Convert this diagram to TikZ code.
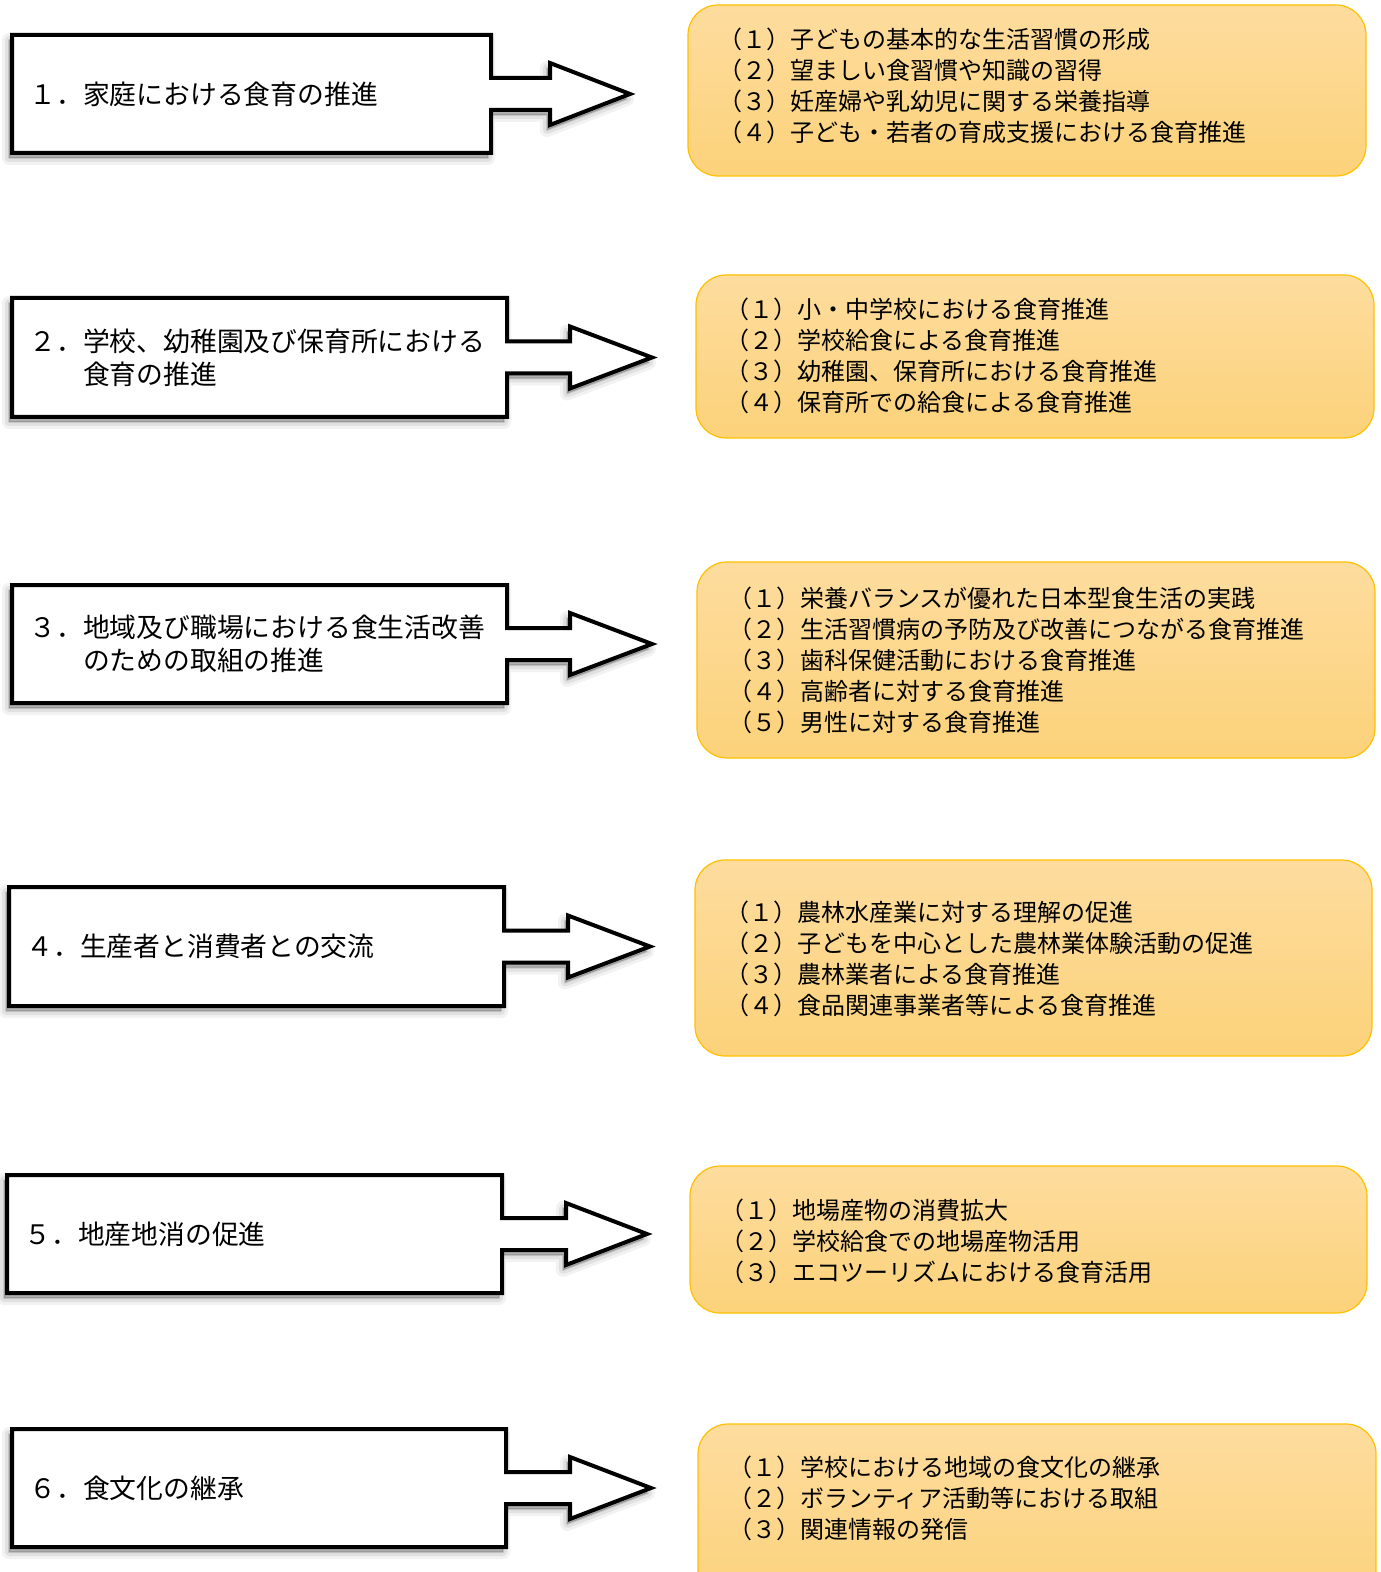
\documentclass[tikz,border=0pt]{standalone}
\usepackage{fontspec}
\newfontfamily\jp{Noto Sans CJK JP}
\definecolor{boxtop}{HTML}{FDDC9E}
\definecolor{boxbot}{HTML}{FCD27A}
\definecolor{boxline}{HTML}{FFC000}
\tikzset{
  arrowline/.style={draw=black, line width=2pt, fill=white, line join=miter},
  arrowshadow/.style={draw=black, fill=black, line join=round},
  itembox/.style={draw=boxline, line width=0.6pt, rounded corners=15pt, top color=boxtop, bottom color=boxbot},
  headtext/.style={anchor=west, inner sep=0pt, align=left, font=\jp\fontsize{13.4pt}{16.5pt}\selectfont},
  itemtext/.style={anchor=west, inner sep=0pt, align=left, font=\jp\fontsize{12pt}{15.5pt}\selectfont},
}
% #1 left, #2 top, #3 right, #4 bottom, #5 head base, #6 tip
\newcommand\farrow[6]{%
  \pgfmathsetmacro\cy{(#2+#4)/2}%
  \pgfmathsetmacro\sa{\cy-16}\pgfmathsetmacro\sb{\cy+16}%
  \pgfmathsetmacro\ha{\cy-31}\pgfmathsetmacro\hb{\cy+31}%
  \foreach \lw/\op in {7pt/0.05,4pt/0.07,1pt/0.12}{%
    \draw[arrowshadow, line width=\lw, opacity=\op, shift={(-3,5)}]
      (#1,#2) -- (#3,#2) -- (#3,\sa) -- (#5,\sa) -- (#5,\ha) -- (#6,\cy) -- (#5,\hb) -- (#5,\sb) -- (#3,\sb) -- (#3,#4) -- (#1,#4) -- cycle;}%
  \draw[arrowline]
      (#1,#2) -- (#3,#2) -- (#3,\sa) -- (#5,\sa) -- (#5,\ha) -- (#6,\cy) -- (#5,\hb) -- (#5,\sb) -- (#3,\sb) -- (#3,#4) -- (#1,#4) -- cycle;%
}
\begin{document}
\begin{tikzpicture}[x=0.5pt, y=-0.5pt]
\useasboundingbox (0,0) rectangle (1380,1572);
\clip (0,0) rectangle (1380,1572);

% arrows
\farrow{12}{35}{491}{153}{550}{630}
\farrow{12}{298}{507}{417}{570}{652}
\farrow{12}{585}{507}{703}{570}{652}
\farrow{9}{887}{504}{1006}{568}{650}
\farrow{7}{1175}{502}{1293}{566}{647}
\farrow{12}{1429}{506}{1547}{570}{651}

\node[headtext] (h1) at (29,94) {１．家庭における食育の推進};
\node[headtext] (h2) at (29,357.5) {２．学校、幼稚園及び保育所における\\\hspace*{2em}食育の推進};
\node[headtext] (h3) at (29,644) {３．地域及び職場における食生活改善\\\hspace*{2em}のための取組の推進};
\node[headtext] (h4) at (26,946.5) {４．生産者と消費者との交流};
\node[headtext] (h5) at (24,1234) {５．地産地消の促進};
\node[headtext] (h6) at (29,1488) {６．食文化の継承};

% boxes
\draw[itembox] (688,5) rectangle (1366,176);
\draw[itembox] (696,275) rectangle (1374,438);
\draw[itembox] (697,562) rectangle (1375,758);
\draw[itembox] (695,860) rectangle (1372,1056);
\draw[itembox] (690,1166) rectangle (1367,1313);
\draw[itembox] (698,1424) rectangle (1376,1610);

\node[itemtext] (t1) at (718,85.5) {（１）子どもの基本的な生活習慣の形成\\（２）望ましい食習慣や知識の習得\\（３）妊産婦や乳幼児に関する栄養指導\\（４）子ども・若者の育成支援における食育推進};
\node[itemtext] (t2) at (725,355.5) {（１）小・中学校における食育推進\\（２）学校給食による食育推進\\（３）幼稚園、保育所における食育推進\\（４）保育所での給食による食育推進};
\node[itemtext] (t3) at (728,660) {（１）栄養バランスが優れた日本型食生活の実践\\（２）生活習慣病の予防及び改善につながる食育推進\\（３）歯科保健活動における食育推進\\（４）高齢者に対する食育推進\\（５）男性に対する食育推進};
\node[itemtext] (t4) at (725,958.5) {（１）農林水産業に対する理解の促進\\（２）子どもを中心とした農林業体験活動の促進\\（３）農林業者による食育推進\\（４）食品関連事業者等による食育推進};
\node[itemtext] (t5) at (720,1241) {（１）地場産物の消費拡大\\（２）学校給食での地場産物活用\\（３）エコツーリズムにおける食育活用};
\node[itemtext] (t6) at (728,1498) {（１）学校における地域の食文化の継承\\（２）ボランティア活動等における取組\\（３）関連情報の発信};
\end{tikzpicture}
\end{document}
